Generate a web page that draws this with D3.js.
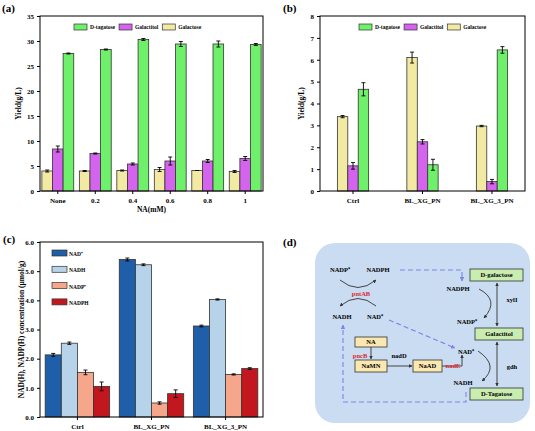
<!DOCTYPE html>
<html><head><meta charset="utf-8">
<script src="https://cdn.jsdelivr.net/npm/d3@7"></script>
<style>body{margin:0;background:#fff}svg{font-family:"Liberation Serif",serif;font-weight:bold}</style>
</head><body><svg id="s" width="535" height="431"></svg>
<script>
// ---- data ----
const naCats = ["None","0.2","0.4","0.6","0.8","1"];
const sugarSeries = ["Galactose","Galactitol","D-tagatose"];
const aGalactose = [4.0,4.0,4.1,4.3,4.1,3.9], aGalactoseErr=[0.2,0.1,0.1,0.4,0,0.2];
const aGalactitol = [8.4,7.5,5.4,6.0,6.0,6.5], aGalactitolErr=[0.6,0.1,0.2,0.8,0.3,0.4];
const aTagatose = [27.5,28.3,30.3,29.4,29.4,29.3], aTagatoseErr=[0.1,0.1,0.2,0.5,0.6,0.2];
const strains = ["Ctrl","BL_XG_PN","BL_XG_3_PN"];
const bGalactose=[3.4,6.1,2.97], bGalactoseErr=[0.05,0.25,0.03];
const bGalactitol=[1.15,2.25,0.43], bGalactitolErr=[0.15,0.1,0.1];
const bTagatose=[4.65,1.2,6.45], bTagatoseErr=[0.3,0.25,0.15];
const cofSeries=["NAD⁺","NADH","NADP⁺","NADPH"];
const cNAD=[2.13,5.4,3.12], cNADErr=[0.05,0.05,0.03];
const cNADH=[2.53,5.22,4.03], cNADHErr=[0.04,0.03,0.02];
const cNADP=[1.53,0.48,1.46], cNADPErr=[0.08,0.04,0.02];
const cNADPH=[1.05,0.8,1.66], cNADPHErr=[0.15,0.13,0.03];
const aTicks=[0,5,10,15,20,25,30,35], bTicks=[0,1,2,3,4,5,6,7,8], cTicks=[0,1,2,3,4,5,6];

const svg=d3.select("#s");
const sugarColors=["#f2eaa2","#d463ee","#6ef06a"];
const cofColors=["#1f5ea8","#b7d3ea","#f6a78b","#c3171f"];

function panel(o){
  const g=svg.append("g");
  const x=d3.scaleBand().domain(o.cats).range([o.x0,o.x1]).paddingInner(o.pi).paddingOuter(o.po);
  const xs=d3.scaleBand().domain(d3.range(o.series.length)).range([0,x.bandwidth()]);
  const y=d3.scaleLinear().domain([0,o.ymax]).range([o.y1,o.y0]);
  o.series.forEach((s,si)=>{
    o.vals[si].forEach((v,i)=>{
      const bx=x(o.cats[i])+xs(si);
      g.append("rect").attr("x",bx).attr("y",y(v)).attr("width",xs.bandwidth()).attr("height",y(0)-y(v))
        .attr("fill",o.colors[si]).attr("stroke","#333").attr("stroke-width",0.8);
      const e=o.errs[si][i], cx=bx+xs.bandwidth()/2;
      g.append("path").attr("d",`M${cx-2},${y(v+e)}H${cx+2}M${cx},${y(v+e)}V${y(v-e)}M${cx-2},${y(v-e)}H${cx+2}`).attr("stroke","#000").attr("stroke-width",0.9).attr("fill","none");
    });
  });
  g.append("rect").attr("x",o.x0).attr("y",o.y0).attr("width",o.x1-o.x0).attr("height",o.y1-o.y0).attr("fill","none").attr("stroke","#000").attr("stroke-width",1);
  const ya=g.append("g").attr("transform",`translate(${o.x0},0)`).call(d3.axisLeft(y).tickValues(o.ticks).tickSize(3).tickSizeOuter(0));
  const xa=g.append("g").attr("transform",`translate(0,${o.y1})`).call(d3.axisBottom(x).tickSize(3).tickSizeOuter(0));
  [ya,xa].forEach(a=>{a.select(".domain").remove();a.selectAll("text").attr("font-family","Liberation Serif").attr("font-weight","bold").attr("font-size",7).attr("fill","#000");});
  xa.selectAll("text").attr("dy","0.9em");
  g.append("text").attr("transform",`translate(${o.ytx},${(o.y0+o.y1)/2}) rotate(-90)`).attr("text-anchor","middle").attr("font-size",7.5).text(o.ytitle);
  if(o.xtitle) g.append("text").attr("x",(o.x0+o.x1)/2).attr("y",o.y1+21).attr("text-anchor","middle").attr("font-size",7.5).text(o.xtitle);
  svg.append("text").attr("x",o.lx).attr("y",o.ly).attr("font-size",11).text(o.label);
  return g;
}
function hLegend(g,x0,y0,names,colors,gap){
  let x=x0;
  names.forEach((n,i)=>{
    g.append("rect").attr("x",x).attr("y",y0-3).attr("width",13).attr("height",6).attr("fill",colors[i]).attr("stroke","#333").attr("stroke-width",0.7);
    const t=g.append("text").attr("x",x+16).attr("y",y0+2).attr("font-size",5.5).text(n);
    x+=16+t.node().getComputedTextLength()+gap;
  });
}
const ga=panel({cats:naCats,series:sugarSeries,vals:[aGalactose,aGalactitol,aTagatose],errs:[aGalactoseErr,aGalactitolErr,aTagatoseErr],
  colors:sugarColors,x0:40,x1:263,y0:16,y1:191,ymax:35,ticks:aTicks,pi:0.15,po:0.05,ytitle:"Yield(g/L)",ytx:21,xtitle:"NA(mM)",label:"(a)",lx:2,ly:12});
hLegend(ga,74,27,["D-tagatose","Galactitol","Galactose"],[sugarColors[2],sugarColors[1],sugarColors[0]],4);
const gb=panel({cats:strains,series:sugarSeries,vals:[bGalactose,bGalactitol,bTagatose],errs:[bGalactoseErr,bGalactitolErr,bTagatoseErr],
  colors:sugarColors,x0:320,x1:525,y0:16,y1:191,ymax:8,ticks:bTicks,pi:0.55,po:0.25,ytitle:"Yield(g/L)",ytx:304,label:"(b)",lx:283,ly:12});
hLegend(gb,359,27,["D-tagatose","Galactitol","Galactose"],[sugarColors[2],sugarColors[1],sugarColors[0]],4);
const gc=panel({cats:strains,series:cofSeries,vals:[cNAD,cNADH,cNADP,cNADPH],errs:[cNADErr,cNADHErr,cNADPErr,cNADPHErr],
  colors:cofColors,x0:40,x1:263,y0:242,y1:417,ymax:6,ticks:cTicks,pi:0.13,po:0.07,ytitle:"NAD(H), NADP(H) concentration (μmol/g)",ytx:24,label:"(c)",lx:3,ly:243});
cofSeries.forEach((n,i)=>{
  gc.append("rect").attr("x",52).attr("y",250+i*16.3).attr("width",15).attr("height",6).attr("fill",cofColors[i]).attr("stroke","#333").attr("stroke-width",0.7);
  gc.append("text").attr("x",69).attr("y",256+i*16.3).attr("font-size",5.5).text(n);
});

// ---- panel d: pathway diagram ----
const boxesGreen=[["D-galactose",470,269,53,12],["Galactitol",475,328,48,12],["D-Tagatose",470,388,53,12]];
const boxesYellow=[["NA",355,337,32,10],["NaMN",355,360,32,12],["NaAD",413,360,29,12]];
const dTexts=[["NADP⁺",340,272,"#000"],["NADPH",378,272,"#000"],["NADH",342,319,"#000"],["NAD⁺",375,319,"#000"],["pntAB",361,296,"#e0262a"],
  ["NADPH",458,291,"#000"],["NADP⁺",467,324,"#000"],["xylI",512,302,"#000"],["NAD⁺",466,354,"#000"],["NADH",463,385,"#000"],["gdh",512,369,"#000"],
  ["pncB",360,358,"#e0262a"],["nadD",399,358,"#000"],["nadE",453,368,"#e0262a"]];
svg.append("text").attr("x",283).attr("y",246).attr("font-size",11).text("(d)");
svg.append("rect").attr("x",315).attr("y",243).attr("width",215).attr("height",180).attr("rx",20).attr("fill","#c9dcf1");
const defs=svg.append("defs");
[["ah","#333"],["ahb","#7b86e8"]].forEach(([id,c])=>defs.append("marker").attr("id",id).attr("viewBox","0 0 10 10").attr("refX",9).attr("refY",5)
  .attr("markerWidth",4).attr("markerHeight",4).attr("orient","auto-start-reverse").append("path").attr("d","M0,0L10,5L0,10z").attr("fill",c));
const dg=svg.append("g").attr("font-size",6.5);
const dashed=(d)=>dg.append("path").attr("d",d).attr("fill","none").attr("stroke","#7b86e8").attr("stroke-width",1.1).attr("stroke-dasharray","5,3").attr("marker-end","url(#ahb)");
const solid=(d,both)=>{const p=dg.append("path").attr("d",d).attr("fill","none").attr("stroke","#333").attr("stroke-width",0.9).attr("marker-end","url(#ah)");if(both)p.attr("marker-start","url(#ah)");};
dashed("M400,270H462V281");
dashed("M389,320L455,348");
dashed("M466,392V402H343V325");
solid("M340,280Q358,295 376,280");
solid("M376,306Q358,291 340,306");
solid("M479,289Q500,300 484,318");
solid("M478,351Q500,366 482,381");
solid("M497,283V326",true);
solid("M497,342V386",true);
solid("M371,347V359");
solid("M387,366H412");
solid("M442,366H462V355");
boxesGreen.forEach(([t,x,y,w,h])=>{dg.append("rect").attr("x",x).attr("y",y).attr("width",w).attr("height",h).attr("fill","#c9ecb0").attr("stroke","#333").attr("stroke-width",0.8);
  dg.append("text").attr("x",x+w/2).attr("y",y+h/2+2.3).attr("text-anchor","middle").text(t);});
boxesYellow.forEach(([t,x,y,w,h])=>{dg.append("rect").attr("x",x).attr("y",y).attr("width",w).attr("height",h).attr("fill","#fbe7b0").attr("stroke","#333").attr("stroke-width",0.8);
  dg.append("text").attr("x",x+w/2).attr("y",y+h/2+2.3).attr("text-anchor","middle").text(t);});
dTexts.forEach(([t,x,y,c])=>dg.append("text").attr("x",x).attr("y",y).attr("text-anchor","middle").attr("fill",c).text(t));
</script></body></html>
